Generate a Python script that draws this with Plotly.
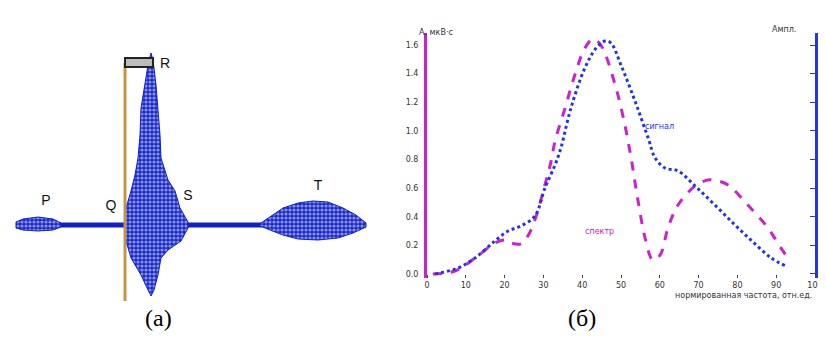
import plotly.graph_objects as go

# ---------------- Panel (б): two curves ----------------
mag_x = [1.5, 7.2, 12.4, 17.5, 20.1, 21.6, 24.2, 26.0, 27.8, 30.4, 32.0, 33.0, 35.6, 38.1, 40.7,
         42.8, 44.8, 48.5, 51.0, 52.6, 54.4, 56.4, 58.2, 60.1, 62.1, 64.7, 69.1, 72.4, 75.0,
         77.6, 82.7, 87.9, 91.2, 93.6]
mag_y = [0.0, 0.021, 0.112, 0.217, 0.238, 0.217, 0.210, 0.266, 0.377, 0.622, 0.790, 0.929, 1.160,
         1.391, 1.579, 1.642, 1.600, 1.321, 1.041, 0.811, 0.510, 0.231, 0.098, 0.133, 0.321,
         0.482, 0.615, 0.657, 0.650, 0.622, 0.482, 0.321, 0.182, 0.091]

blu_x = [2.1, 8.0, 12.4, 17.5, 20.9, 24.2, 27.8, 30.4, 33.0, 34.5, 37.1, 40.7, 43.6, 45.9, 47.4,
         50.0, 53.6, 57.0, 58.8, 61.3, 64.7, 69.1, 74.2, 79.4, 84.0, 88.7, 92.5]
blu_y = [0.0, 0.042, 0.112, 0.231, 0.300, 0.335, 0.405, 0.601, 0.762, 0.880, 1.160, 1.440, 1.579,
         1.628, 1.614, 1.460, 1.209, 0.950, 0.811, 0.741, 0.720, 0.615, 0.482, 0.342, 0.224,
         0.112, 0.056]

x_ticks = [0, 10, 20, 30, 40, 50, 60, 70, 80, 90, 100]
y_ticks = [0.0, 0.2, 0.4, 0.6, 0.8, 1.0, 1.2, 1.4, 1.6]
y_ticklabels = ["0.0", "0.2", "0.4", "0.6", "0.8", "1.0", "1.2", "1.4", "1.6"]
y2_ticklabels = ["0", "1", "2", "3", "4", "5", "6", "7", "8"]

# ---------------- Panel (a): ECG complex (outline envelopes) ----------------
base_x = [8, 358]
base_y = [0, 0]

p_x = [8, 15, 30, 45, 53, 53, 45, 30, 15, 8, 8]
p_y = [3, 6, 8, 6, 2, -2, -5, -6, -5, -3, 3]

qrs_x = [116, 118, 123, 127, 130, 132, 133, 137, 140, 143, 145, 148, 150, 152, 153, 157, 160,
         167, 172, 180, 180, 173, 160, 153, 150, 146, 143, 140, 133, 123, 118, 116]
qrs_y = [0, 17, 34, 50, 67, 90, 117, 140, 160, 172, 165, 140, 117, 90, 67, 55, 45,
         34, 17, 3, -3, -16, -25, -33, -50, -65, -71, -65, -50, -33, -16, 0]

t_x = [250, 262, 275, 290, 305, 320, 335, 348, 358, 358, 345, 330, 310, 290, 275, 262, 250]
t_y = [0, 8, 17, 22, 24, 23, 17, 10, 2, -2, -8, -13, -15, -14, -10, -5, 0]

wave_labels = ["P", "Q", "R", "S", "T"]
wave_label_x = [38, 103, 157, 180, 310]
wave_label_y = [24, 19, 161, 29, 39]

marker_x = 117
marker_top = 162
marker_bottom = -76

W, H = 826, 341
BLUE = "#2233EE"
MAG = "#CC22CC"
ECG = "#1020C8"

fig = go.Figure()

# ECG traces (xaxis2 / yaxis3)
pattern = dict(shape=".", fgcolor="#FFFFFF", bgcolor="#1828D0", size=4, solidity=0.5)
fig.add_trace(go.Scatter(x=base_x, y=base_y, mode="lines", line=dict(color=ECG, width=5),
                         xaxis="x2", yaxis="y3", hoverinfo="skip", showlegend=False))
for xs, ys in [(p_x, p_y), (qrs_x, qrs_y), (t_x, t_y)]:
    fig.add_trace(go.Scatter(x=xs, y=ys, mode="lines", fill="toself", fillpattern=pattern,
                             fillcolor=ECG, line=dict(color=ECG, width=1),
                             xaxis="x2", yaxis="y3", hoverinfo="skip", showlegend=False))
fig.add_trace(go.Scatter(x=[marker_x, marker_x], y=[marker_top, marker_bottom], mode="lines",
                         line=dict(color="#C8943C", width=3), xaxis="x2", yaxis="y3",
                         showlegend=False))
fig.add_trace(go.Scatter(x=wave_label_x, y=wave_label_y, mode="text", text=wave_labels,
                         textfont=dict(family="Liberation Sans", size=14, color="#111"),
                         xaxis="x2", yaxis="y3", showlegend=False))
fig.add_shape(type="rect", xref="x2", yref="y3", x0=117, x1=145, y0=158, y1=167,
              line=dict(color="#222", width=2), fillcolor="#BBBBBB")

# Curves panel
fig.add_trace(go.Scatter(x=mag_x, y=mag_y, mode="lines",
                         line=dict(color=MAG, width=3, dash="dash", shape="spline"),
                         showlegend=False))
fig.add_trace(go.Scatter(x=blu_x, y=blu_y, mode="lines",
                         line=dict(color=BLUE, width=3, dash="dot", shape="spline"),
                         showlegend=False))
# invisible trace so the right axis is drawn
fig.add_trace(go.Scatter(x=[0], y=[0], yaxis="y2", mode="markers", marker=dict(opacity=0),
                         hoverinfo="skip", showlegend=False))


def px_x(p):
    return p / W


def px_y(p):
    return 1 - p / H


y_lo, y_hi = -0.028, 1.684
tick_font = dict(family="DejaVu Sans", size=8, color="#333")

fig.update_layout(
    width=W, height=H, margin=dict(l=0, r=0, t=0, b=0),
    paper_bgcolor="white", plot_bgcolor="rgba(0,0,0,0)",
    xaxis=dict(domain=[px_x(419), px_x(807)], range=[0, 100], tickvals=x_ticks,
               ticks="outside", ticklen=3, tickcolor="#444", showline=False, showgrid=False,
               zeroline=False, tickfont=tick_font, automargin=False,
               anchor="free", position=px_y(266)),
    yaxis=dict(domain=[px_y(270), px_y(25)], range=[y_lo, y_hi], tickvals=y_ticks,
               ticktext=y_ticklabels, showline=True, linecolor=MAG, linewidth=3, ticks="",
               showgrid=False, zeroline=False, tickfont=tick_font, automargin=False,
               ticklabelstandoff=4),
    yaxis2=dict(overlaying="y", side="right", range=[y_lo, y_hi], tickvals=y_ticks,
                ticktext=y2_ticklabels, showline=True, linecolor=BLUE, linewidth=3,
                ticks="inside", ticklen=5, tickcolor=BLUE, showgrid=False, zeroline=False,
                tickfont=tick_font, automargin=False, anchor="x", ticklabelstandoff=2),
    xaxis2=dict(domain=[0, px_x(380)], range=[0, 380], visible=False, anchor="y3"),
    yaxis3=dict(domain=[0, 1], range=[-124, 217], visible=False, anchor="x2"),
)

small = dict(family="DejaVu Sans", size=8, color="#333")
fig.add_annotation(text="A, мкВ·с", xref="paper", yref="paper", x=px_x(428), y=px_y(18),
                   showarrow=False, font=small)
fig.add_annotation(text="Ампл.", xref="paper", yref="paper", x=px_x(790), y=px_y(15),
                   showarrow=False, font=small)
fig.add_annotation(text="нормированная частота, отн.ед.", xref="paper", yref="paper",
                   x=px_x(806), y=px_y(294), xanchor="right", showarrow=False, font=small)
fig.add_annotation(text="сигнал", xref="paper", yref="paper", x=px_x(668), y=px_y(118),
                   showarrow=False, font=dict(family="DejaVu Sans", size=8, color=BLUE))
fig.add_annotation(text="спектр", xref="paper", yref="paper", x=px_x(608), y=px_y(223),
                   showarrow=False, font=dict(family="DejaVu Sans", size=8, color=MAG))

cap = dict(family="Liberation Serif", size=24, color="#000")
fig.add_annotation(text="(a)", xref="paper", yref="paper", x=px_x(135), y=px_y(325),
                   showarrow=False, font=cap)
fig.add_annotation(text="(б)", xref="paper", yref="paper", x=px_x(590), y=px_y(325),
                   showarrow=False, font=cap)

fig.write_html("out.html")
